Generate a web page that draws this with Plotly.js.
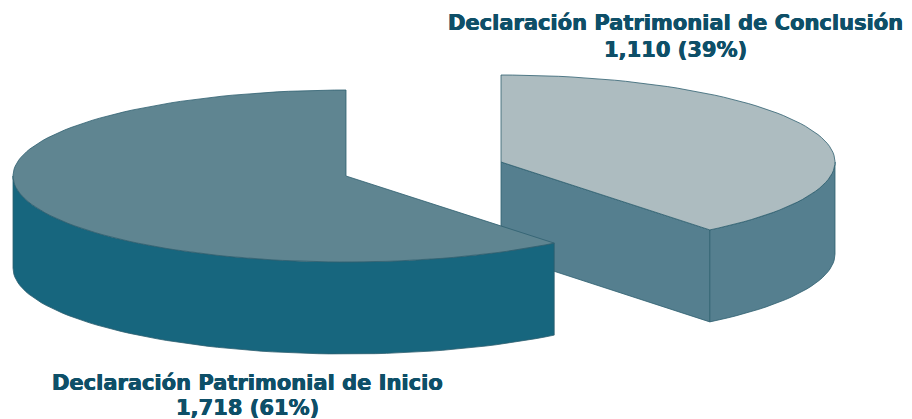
<!DOCTYPE html>
<html>
<head>
<meta charset="utf-8">
<script src="https://cdn.plot.ly/plotly-3.0.1.min.js"></script>
<style>html,body{margin:0;padding:0;background:#fff}#c{width:912px;height:419px}</style>
</head>
<body>
<div id="c"></div>
<script>
const categories = ["Declaración Patrimonial de Inicio", "Declaración Patrimonial de Conclusión"];
const values = [1718, 1110];
const shares = [61, 39];
const valueLabels = ["1,718", "1,110"];

const topColors = ["#5f8591", "#adbcc0"];
const wallColors = ["#17667e", "#557f8f"];
const edgeColor = "#2f5f70";
const textColor = "#0e4f68";

const total = values[0] + values[1];
const sweep = values.map(v => 360 * v / total);
const RAD = Math.PI / 180;
const pie = {
  inicio: {cx: 346, cy: 176, rx: 333, ry: 86},
  conclusion: {cx: 501, cy: 162, rx: 334, ry: 87}
};
const depth = 92;

function pt(p, deg, dz) {
  return [p.cx + p.rx * Math.sin(deg * RAD), p.cy - p.ry * Math.cos(deg * RAD) + (dz || 0)];
}
function arc(p, a, b, dz) {
  const n = Math.max(2, Math.ceil(Math.abs(b - a) / 2));
  const out = [];
  for (let i = 0; i <= n; i++) out.push(pt(p, a + (b - a) * i / n, dz));
  return out;
}
function poly(points, color, name) {
  return {
    type: "scatter", mode: "lines",
    x: points.map(q => q[0]), y: points.map(q => q[1]),
    fill: "toself", fillcolor: color,
    line: {color: edgeColor, width: 0.8},
    hoverinfo: "text", text: name, showlegend: false
  };
}

const L = pie.inicio, R = pie.conclusion;
const rEnd = sweep[1];
const lEnd = -sweep[0];
const rTip = pt(R, rEnd);
const rTipB = pt(R, rEnd, depth);
const rApex = [R.cx, R.cy];
const rApexB = [R.cx, R.cy + depth];

const traces = [
  // Conclusión: cut wall, round wall, top
  poly([rApex, rTip, rTipB, rApexB, rApex], wallColors[1], categories[1]),
  poly([...arc(R, rEnd, 90), ...arc(R, 90, rEnd, depth)].concat([rTip]), wallColors[1], categories[1]),
  poly([rApex, ...arc(R, 0, rEnd), rApex], topColors[1], categories[1]),
  // Inicio: round wall, top
  poly([...arc(L, lEnd, -90), ...arc(L, -90, lEnd, depth)].concat([pt(L, lEnd)]), wallColors[0], categories[0]),
  poly([[L.cx, L.cy], ...arc(L, 0, lEnd), [L.cx, L.cy]], topColors[0], categories[0])
];

function note(x, y, text) {
  return {x: x, y: y, xref: "x", yref: "y", text: text, showarrow: false,
    xanchor: "center", yanchor: "middle",
    font: {family: "'DejaVu Sans', sans-serif", size: 21, color: textColor, weight: 700,
           shadow: "0.4px 0 0 " + textColor + ", -0.4px 0 0 " + textColor}};
}

const layout = {
  width: 912, height: 419,
  margin: {l: 0, r: 0, t: 0, b: 0},
  paper_bgcolor: "#ffffff", plot_bgcolor: "#ffffff",
  showlegend: false,
  xaxis: {range: [0, 912], visible: false, fixedrange: true},
  yaxis: {range: [419, 0], visible: false, fixedrange: true},
  annotations: [
    note(675, 23, "<b>" + categories[1] + "</b>"),
    note(675, 50, "<b>" + valueLabels[1] + " (" + shares[1] + "%)</b>"),
    note(247, 383, "<b>" + categories[0] + "</b>"),
    note(247, 408, "<b>" + valueLabels[0] + " (" + shares[0] + "%)</b>")
  ]
};
Plotly.newPlot("c", traces, layout, {displayModeBar: false, staticPlot: true});
</script>
</body>
</html>
